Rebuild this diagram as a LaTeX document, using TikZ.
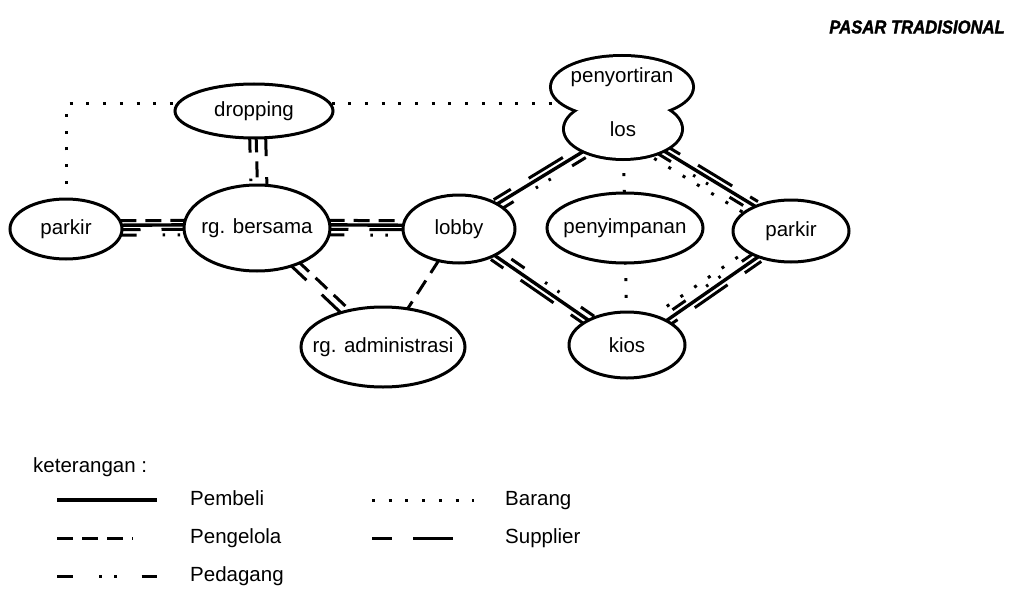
\documentclass[tikz,border=0pt]{standalone}
\usepackage{fontspec}
\setmainfont{Liberation Sans}
\newfontfamily\titlefont{Liberation Sans}[FakeStretch=0.9,FakeBold=1.5]
\usetikzlibrary{shapes.geometric}
\usetikzlibrary{calc}
\usetikzlibrary{backgrounds}
\tikzset{
room/.style={
  ellipse,
  draw,
  line width=3pt,
  fill=white,
  inner xsep=-15pt,
  inner ysep=0pt,
  font=\fontsize{20.5}{24}\selectfont
},
cloudroom/.style={room,draw=none},
pembeli/.style={line width=3.4pt},
pengelola/.style={line width=3pt,dash pattern=on 16pt off 9pt},
pedagang/.style={line width=3pt,dash pattern=on 16pt off 26pt on 2.5pt off 12.5pt on 2.5pt off 25pt},
barang/.style={line width=3pt,dash pattern=on 3pt off 13.7pt},
supplier/.style={line width=3pt,dash pattern=on 20pt off 21pt on 40pt off 21pt},
legend/.style={anchor=west,inner sep=0pt,text height=14pt,text depth=4pt,
  font=\fontsize{20.5}{24}\selectfont},
}

\begin{document}
\begin{tikzpicture}[x=1pt,y=-1pt]
\useasboundingbox (0,0) rectangle (1011,591);

% the rooms
\node[room,minimum width=112pt,minimum height=60pt] (parkirA) at (66,229) {parkir};
\node[room,minimum width=158pt,minimum height=54pt] (dropping) at (254,111) {dropping};
\node[room,minimum width=146pt,minimum height=86pt] (bersama) at (257,228) {rg. bersama};
\node[room,minimum width=112pt,minimum height=68pt] (lobby) at (459,229) {lobby};
\node[room,minimum width=164pt,minimum height=80pt] (admin) at (383,347) {rg. administrasi};
\node[cloudroom,minimum width=140pt,minimum height=60pt,text height=14pt,text depth=22pt]
  (penyortiran) at (622,87) {penyortiran};
\node[cloudroom,minimum width=116pt,minimum height=58pt] (los) at (623,129) {los};
\node[room,minimum width=156pt,minimum height=70pt] (penyimpanan) at (625,228) {penyimpanan};
\node[room,minimum width=116pt,minimum height=62pt] (parkirB) at (791,231) {parkir};
\node[room,minimum width=116pt,minimum height=66pt] (kios) at (627,345) {kios};

\node[anchor=east,inner sep=0pt,font=\titlefont\bfseries\itshape\fontsize{18.5}{21}\selectfont]
  (title) at (1005,27) {PASAR TRADISIONAL};

% the relations
\begin{scope}[on background layer,shorten <=-3pt,shorten >=-3pt]
\foreach \a/\b/\rel in {
  parkirA/bersama/{pengelola/8pt,pembeli/3.5pt,supplier/-1pt,pedagang/-6.5pt},
  bersama/lobby/{pengelola/8pt,pembeli/3.5pt,supplier/-1pt,pedagang/-6.5pt},
  dropping/bersama/{pedagang/-5pt,pengelola/1.5pt,supplier/11pt},
  bersama/admin/{pengelola/4pt,supplier/-4pt},
  lobby/admin/{pengelola/0pt},
  lobby/los/{supplier/7pt,pembeli/1.5pt,pedagang/-5pt},
  los/parkirB/{supplier/8pt,pembeli/2.5pt,pedagang/-3pt,barang/-9pt},
  parkirB/kios/{supplier/8pt,pembeli/2.5pt,pedagang/-3pt,barang/-9pt},
  kios/lobby/{supplier/7pt,pembeli/1.5pt,pedagang/-5pt}}
{
  \path (\a) -- (\b) coordinate[pos=0] (from) coordinate[pos=1] (to);
  \foreach \s/\o in \rel
    \draw[\s] ($(from)!\o!90:(to)$) -- ($(to)!\o!-90:(from)$);
}
\draw[barang] (parkirA.north) |- ([yshift=7pt]dropping.west);
\draw[barang] ([yshift=7pt]dropping.east) -- ($(dropping.east -| los.west)+(0,-7)$);
\draw[barang] (los) -- (penyimpanan);
\draw[barang] (penyimpanan) -- (kios);
% outline of penyortiran + los
\draw[line width=6pt] (penyortiran.center) ellipse [x radius=70pt,y radius=30pt];
\draw[line width=6pt] (los.center) ellipse [x radius=58pt,y radius=29pt];
\end{scope}

% the legend
\node[legend] (keterangan) at (33,467) {keterangan :};
\foreach \s/\lbl/\x/\y/\len in {pembeli/Pembeli/57/500/100,
  pengelola/Pengelola/57/538/76, pedagang/Pedagang/57/576/100,
  barang/Barang/372/500/102, supplier/Supplier/372/538/81}
{
  \draw[\s] (\x,\y) coordinate (\s-from) -- ++(\len,0) coordinate (\s-to);
  \node[legend] (\s-label) at (\x+133,\y) {\lbl};
}
\end{tikzpicture}
\end{document}
